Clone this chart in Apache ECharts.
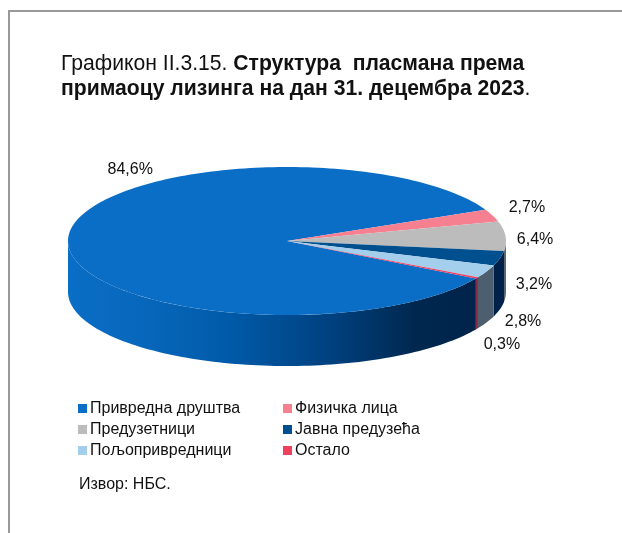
<!DOCTYPE html>
<html><head><meta charset="utf-8">
<style>html,body{margin:0;padding:0;background:#fff}#c{width:622px;height:533px}</style>
<script src="https://cdn.jsdelivr.net/npm/echarts@6/dist/echarts.min.js"></script>
</head><body><div id="c"></div>
<script>
var categories = ['Привредна друштва','Физичка лица','Предузетници','Јавна предузећа','Пољопривредници','Остало'];
var values = [84.6,2.7,6.4,3.2,2.8,0.3];
var valueLabels = ['84,6%','2,7%','6,4%','3,2%','2,8%','0,3%'];

var topColors = ['#0a6ec6','#f6808f','#bcbcbc','#00508f','#a3cfec','#f04060'];
var wallColors = ['#00234a','#b05a66','#5f666c','#00224a','#4d5f6e','#8c2444'];
var labelOffsets = [[62,-68],[34.4,-8],[29.5,3.5],[34,26],[36.4,50],[25,66.5]];
var PIE = {cx:287, cy:241, rx:219, ry:74, depth:51, firstAngle:-30.4};

var total = values.reduce(function(a,b){return a+b;},0);
function px(deg){var r=deg*Math.PI/180;return [PIE.cx+PIE.rx*Math.cos(r),PIE.cy-PIE.ry*Math.sin(r)];}
function arc(a,b){var n=Math.max(2,Math.ceil(Math.abs(a-b)/1.5)),p=[];for(var i=0;i<=n;i++)p.push(px(a+(b-a)*i/n));return p;}

function makeRender(idx){
  return function(params,api){
    var before=0; for(var i=0;i<idx;i++) before+=values[i];
    var sweep=api.value(0)/total*360;
    var start=PIE.firstAngle-before/total*360, end=start-sweep;
    var children=[];
    [[-180,0],[-540,-360]].forEach(function(w){
      var a=Math.min(start,w[1]), b=Math.max(end,w[0]);
      if(a>b){
        var t=arc(a,b), bottom=t.map(function(p){return [p[0],p[1]+PIE.depth];}).reverse();
        var fill = idx===0 ? new echarts.graphic.LinearGradient(0,0,1,0,[
          {offset:0,color:'#0a6ec6'},{offset:0.2,color:'#0766ba'},{offset:0.4,color:'#005aa8'},{offset:0.65,color:'#00407e'},{offset:0.85,color:'#00284f'},{offset:1,color:wallColors[0]}]) : wallColors[idx];
        children.push({type:'polygon',shape:{points:t.concat(bottom)},style:{fill:fill},silent:true});
      }
    });
    var top=[[PIE.cx,PIE.cy]].concat(arc(start,end));
    children.push({type:'polygon',shape:{points:top},style:{fill:topColors[idx]},silent:true});
    var mid=px((start+end)/2);
    var off=labelOffsets[idx];
    children.push({type:'text',style:{x:mid[0]+off[0],y:mid[1]+off[1],text:valueLabels[idx],fill:'#111',font:'16px "Liberation Sans"',align:'center',verticalAlign:'middle'},silent:true});
    return {type:'group',children:children};
  };
}

var series=categories.map(function(name,i){
  return {type:'custom',name:name,coordinateSystem:'none',data:[[values[i]]],itemStyle:{color:topColors[i]},renderItem:makeRender(i),animation:false,silent:true};
});

function legend(names,left){
  return {show:true,orient:'vertical',left:left,top:400,itemWidth:9,itemHeight:9,itemGap:4,padding:0,icon:'rect',selectedMode:false,
    data:names,textStyle:{fontFamily:'Liberation Sans',fontSize:16,color:'#111',padding:[0,0,0,-2],lineHeight:17}};
}

var chart=echarts.init(document.getElementById('c'),null,{renderer:'canvas'});
chart.setOption({
  animation:false,
  backgroundColor:'#fff',
  title:[{left:61,top:52,padding:0,text:'{a|Графикон II.3.15. }{b|Структура  пласмана према}\n{b|примаоцу лизинга на дан 31. децембра 2023}{a|.}',
    textStyle:{rich:{a:{fontFamily:'Liberation Sans',fontSize:21.15,fontWeight:'normal',color:'#111',lineHeight:25},b:{fontFamily:'Liberation Sans',fontSize:21.15,fontWeight:'bold',color:'#111',lineHeight:25}}}},
    {left:79,top:477,padding:0,text:'Извор: НБС.',textStyle:{fontFamily:'Liberation Sans',fontSize:16,fontWeight:'normal',color:'#111'}}],
  legend:[legend([categories[0],categories[2],categories[4]],78),legend([categories[1],categories[3],categories[5]],283)],
  series:series,
  graphic:[{type:'polyline',silent:true,shape:{points:[[9,533],[9,11],[622,11]]},style:{stroke:'#999',lineWidth:2,fill:null}}]
});
</script></body></html>
